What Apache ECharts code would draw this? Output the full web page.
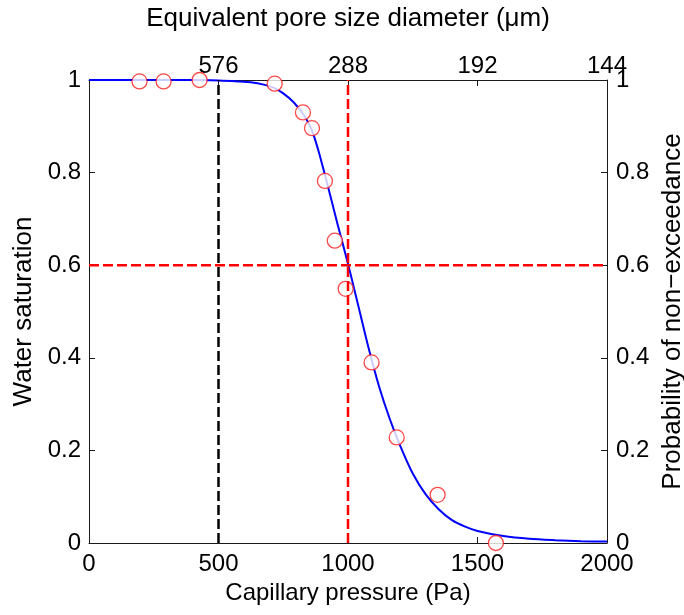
<!DOCTYPE html>
<html>
<head>
<meta charset="utf-8">
<script src="https://cdn.jsdelivr.net/npm/echarts@6/dist/echarts.min.js"></script>
<style>
html,body{margin:0;padding:0;background:#fff;overflow:hidden;}
#chart{width:684px;height:615px;}
</style>
</head>
<body>
<div id="chart"></div>
<script>
// Measured data points (capillary pressure Pa, water saturation)
var obsPressure = [195, 288, 427, 717, 826, 861, 911, 949, 991, 1091, 1188, 1346, 1571];
var obsSaturation = [0.997, 0.997, 1.0, 0.992, 0.930, 0.896, 0.782, 0.653, 0.549, 0.390, 0.228, 0.104, 0.0];

// Fitted curve
var curvePressure = [0, 400, 500, 575, 625, 675, 715, 750, 790, 830, 860, 885, 910, 935, 960, 1000, 1040, 1080, 1120, 1160, 1200, 1250, 1300, 1350, 1400, 1450, 1500, 1600, 1700, 1800, 1900, 2000];
var curveSaturation = [1.0, 1.0, 0.999, 0.997, 0.995, 0.990, 0.983, 0.971, 0.952, 0.924, 0.892, 0.849, 0.797, 0.743, 0.688, 0.603, 0.512, 0.420, 0.338, 0.270, 0.212, 0.150, 0.105, 0.073, 0.050, 0.036, 0.026, 0.015, 0.009, 0.006, 0.004, 0.003];

// Reference lines
var blackLineP = 500;
var redLineP = 1000;
var redLineS = 0.6;

// Axis ticks
var pressureTicks = [0, 500, 1000, 1500, 2000];
var poreTickLabels = ['', '576', '288', '192', '144'];

var font = "'Liberation Sans', Arial, Helvetica, sans-serif";
var fs = 24;

function zip(a, b) { return a.map(function (v, i) { return [v, b[i]]; }); }

var axisLineStyle = { color: '#1a1a1a', width: 1 };

var chart = echarts.init(document.getElementById('chart'));
chart.setOption({
  animation: false,
  backgroundColor: '#ffffff',
  grid: { left: 89, right: 77, top: 80, bottom: 72, containLabel: false, outerBoundsMode: 'none' },
  xAxis: [
    {
      type: 'value', position: 'bottom', min: 0, max: 2000, interval: 500,
      name: 'Capillary pressure (Pa)', nameLocation: 'middle', nameGap: 36,
      nameTextStyle: { fontSize: 24, color: '#000', fontFamily: font },
      axisLine: { show: true, onZero: false, lineStyle: axisLineStyle },
      axisTick: { show: true, inside: true, length: 6, lineStyle: axisLineStyle },
      axisLabel: { fontSize: fs, color: '#000', fontFamily: font, margin: 9,
        formatter: function (v) { return String(v); } },
      splitLine: { show: false }
    },
    {
      type: 'value', position: 'top', min: 0, max: 2000, interval: 500,
      name: 'Equivalent pore size diameter (\u03bcm)', nameLocation: 'middle', nameGap: 48,
      nameTextStyle: { fontSize: 26, color: '#000', fontFamily: font },
      axisLine: { show: true, onZero: false, lineStyle: axisLineStyle },
      axisTick: { show: true, inside: true, length: 6, lineStyle: axisLineStyle },
      axisLabel: {
        fontSize: fs, color: '#000', fontFamily: font, margin: 2,
        formatter: function (v) { var i = pressureTicks.indexOf(v); return i >= 0 ? poreTickLabels[i] : ''; }
      },
      splitLine: { show: false }
    }
  ],
  yAxis: [
    {
      type: 'value', position: 'left', min: 0, max: 1, interval: 0.2,
      name: 'Water saturation', nameLocation: 'middle', nameGap: 52, nameRotate: 90,
      nameTextStyle: { fontSize: 26, color: '#000', fontFamily: font },
      axisLine: { show: true, onZero: false, lineStyle: axisLineStyle },
      axisTick: { show: true, inside: true, length: 6, lineStyle: axisLineStyle },
      axisLabel: { fontSize: fs, color: '#000', fontFamily: font, margin: 8 },
      splitLine: { show: false }
    },
    {
      type: 'value', position: 'right', min: 0, max: 1, interval: 0.2,
      name: 'Probability of non\u2212exceedance', nameLocation: 'middle', nameGap: 50, nameRotate: 90,
      nameTextStyle: { fontSize: 26, color: '#000', fontFamily: font },
      axisLine: { show: true, onZero: false, lineStyle: axisLineStyle },
      axisTick: { show: true, inside: true, length: 6, lineStyle: axisLineStyle },
      axisLabel: { fontSize: fs, color: '#000', fontFamily: font, margin: 9 },
      splitLine: { show: false }
    }
  ],
  series: [
    {
      type: 'line', xAxisIndex: 0, yAxisIndex: 0, z: 2,
      data: zip(curvePressure, curveSaturation),
      smooth: 0.3, showSymbol: false, symbol: 'none',
      lineStyle: { color: '#0000ff', width: 2 }
    },
    {
      type: 'scatter', xAxisIndex: 0, yAxisIndex: 0, z: 3,
      data: zip(obsPressure, obsSaturation),
      symbol: 'circle', symbolSize: 15, clip: false,
      itemStyle: { color: '#ffffff', borderColor: '#ff1a1a', borderWidth: 1.3 }
    },
    {
      type: 'line', xAxisIndex: 0, yAxisIndex: 0, z: 4, symbol: 'none',
      data: [[blackLineP, 0], [blackLineP, 1]],
      lineStyle: { color: '#000000', width: 2.5, type: [10, 4] }
    },
    {
      type: 'line', xAxisIndex: 0, yAxisIndex: 0, z: 4, symbol: 'none',
      data: [[redLineP, 0], [redLineP, 1]],
      lineStyle: { color: '#ff0000', width: 2.5, type: [10, 4] }
    },
    {
      type: 'line', xAxisIndex: 0, yAxisIndex: 0, z: 4, symbol: 'none',
      data: [[0, redLineS], [2000, redLineS]],
      lineStyle: { color: '#ff0000', width: 2.5, type: [10, 4] }
    }
  ]
});
</script>
</body>
</html>
